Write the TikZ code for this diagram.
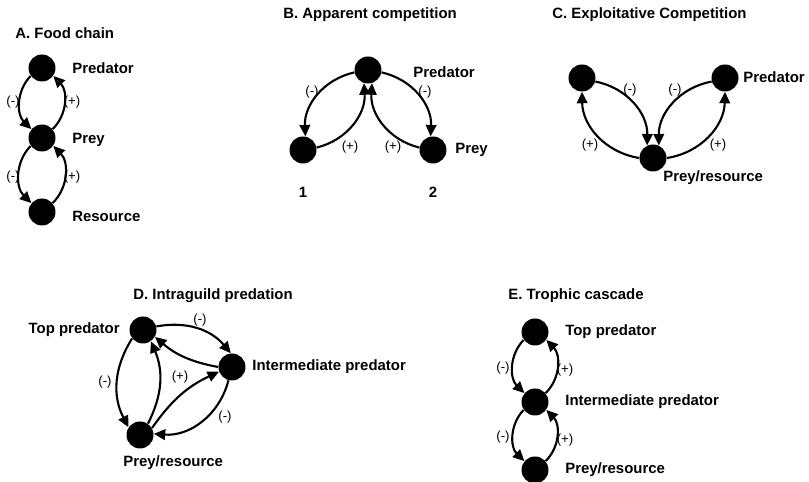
\documentclass[tikz,border=0pt]{standalone}
\usepackage{fontspec}
\setmainfont{Liberation Sans}
\usetikzlibrary{arrows.meta}

\tikzset{
    dot/.style={circle, fill=black, inner sep=0pt, minimum size=0.54cm},
    lbl/.style={font=\bfseries\fontsize{8.5}{10}\selectfont, inner sep=0pt},
    sgn/.style={font=\fontsize{7.5}{9}\selectfont, inner sep=0pt},
    link/.style={line width=1.2pt, -{Triangle[length=6.5pt,width=6pt]}}
}

\begin{document}
\begin{tikzpicture}[x=0.02cm, y=0.02cm]
    \useasboundingbox (0,0) rectangle (809,482);

    % A. Food chain
    \node[lbl, anchor=west] (titleA) at (15,449) {A. Food chain};
    \node[dot] (predA) at (42,414) {};
    \node[dot] (preyA) at (42,344) {};
    \node[dot] (resA) at (42,270) {};
    \node[lbl, anchor=west] (predAtxt) at (72,414) {Predator};
    \node[lbl, anchor=west] (preyAtxt) at (72,342) {Prey};
    \node[lbl, anchor=west] (resAtxt) at (72,266) {Resource};
    \draw[link] (predA.215) to[bend right=45] (preyA.140);
    \draw[link] (preyA.40) to[bend right=45] (predA.325);
    \draw[link] (preyA.215) to[bend right=45] (resA.140);
    \draw[link] (resA.40) to[bend right=45] (preyA.325);
    \node[sgn] (sA1) at (13,380) {(-)};
    \node[sgn] (sA2) at (72,380) {(+)};
    \node[sgn] (sA3) at (13,305) {(-)};
    \node[sgn] (sA4) at (72,305) {(+)};

    % B. Apparent competition
    \node[lbl, anchor=west] (titleB) at (283,467) {B. Apparent competition};
    \node[dot] (predB) at (368,412) {};
    \node[dot] (preyB1) at (303,332) {};
    \node[dot] (preyB2) at (433,332) {};
    \node[lbl, anchor=west] (predBtxt) at (413,410) {Predator};
    \node[lbl, anchor=west] (preyBtxt) at (455,332) {Prey};
    \node[lbl] (oneB) at (303,290) {1};
    \node[lbl] (twoB) at (433,290) {2};
    \draw[link] (predB.190) to[bend right=40] (preyB1.80);
    \draw[link] (preyB1.10) to[bend right=40] (predB.253);
    \draw[link] (predB.350) to[bend left=40] (preyB2.100);
    \draw[link] (preyB2.170) to[bend left=40] (predB.287);
    \node[sgn] (sB1) at (312,390) {(-)};
    \node[sgn] (sB2) at (425,390) {(-)};
    \node[sgn] (sB3) at (350,335) {(+)};
    \node[sgn] (sB4) at (393,335) {(+)};

    % C. Exploitative competition
    \node[lbl, anchor=west] (titleC) at (552,467) {C. Exploitative Competition};
    \node[dot] (predC1) at (582,404) {};
    \node[dot] (predC2) at (725,404) {};
    \node[dot] (resC) at (653,324) {};
    \node[lbl, anchor=west] (predCtxt) at (743,405) {Predator};
    \node[lbl, anchor=west] (resCtxt) at (663,304) {Prey/resource};
    \draw[link] (predC1.345) to[bend left=40] (resC.115);
    \draw[link] (resC.180) to[bend left=40] (predC1.270);
    \draw[link] (predC2.195) to[bend right=40] (resC.65);
    \draw[link] (resC.0) to[bend right=40] (predC2.270);
    \node[sgn] (sC1) at (630,392) {(-)};
    \node[sgn] (sC2) at (675,392) {(-)};
    \node[sgn] (sC3) at (590,337) {(+)};
    \node[sgn] (sC4) at (718,337) {(+)};

    % D. Intraguild predation
    \node[lbl, anchor=west] (titleD) at (133,186) {D. Intraguild predation};
    \node[dot] (topD) at (143,152) {};
    \node[dot] (midD) at (232,115) {};
    \node[dot] (resD) at (140,47) {};
    \node[lbl, anchor=east] (topDtxt) at (120,152) {Top predator};
    \node[lbl, anchor=west] (midDtxt) at (252,115) {Intermediate predator};
    \node[lbl, anchor=west] (resDtxt) at (123,19) {Prey/resource};
    \draw[link] (topD.15) to[bend left=30] (midD.95);
    \draw[link] (midD.180) to[bend left=15] (topD.330);
    \draw[link] (topD.218) to[bend right=30] (resD.146);
    \draw[link] (resD.55) to[bend right=25] (topD.305);
    \draw[link] (resD.30) to[bend left=15] (midD.200);
    \draw[link] (midD.255) to[bend left=40] (resD.5);
    \node[sgn] (sD1) at (200,162) {(-)};
    \node[sgn] (sD2) at (105,100) {(-)};
    \node[sgn] (sD3) at (180,105) {(+)};
    \node[sgn] (sD4) at (225,65) {(-)};

    % E. Trophic cascade
    \node[lbl, anchor=west] (titleE) at (508,186) {E. Trophic cascade};
    \node[dot] (topE) at (535,150) {};
    \node[dot] (midE) at (535,80) {};
    \node[dot] (resE) at (535,12) {};
    \node[lbl, anchor=west] (topEtxt) at (565,150) {Top predator};
    \node[lbl, anchor=west] (midEtxt) at (565,80) {Intermediate predator};
    \node[lbl, anchor=west] (resEtxt) at (565,12) {Prey/resource};
    \draw[link] (topE.215) to[bend right=45] (midE.140);
    \draw[link] (midE.40) to[bend right=45] (topE.325);
    \draw[link] (midE.215) to[bend right=45] (resE.140);
    \draw[link] (resE.40) to[bend right=45] (midE.325);
    \node[sgn] (sE1) at (503,114) {(-)};
    \node[sgn] (sE2) at (565,112) {(+)};
    \node[sgn] (sE3) at (503,45) {(-)};
    \node[sgn] (sE4) at (565,42) {(+)};
\end{tikzpicture}
\end{document}
